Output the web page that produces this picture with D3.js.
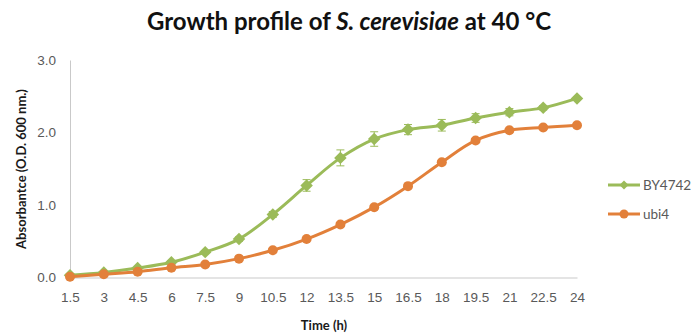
<!DOCTYPE html>
<html>
<head>
<meta charset="utf-8">
<script src="https://cdn.jsdelivr.net/npm/d3@7"></script>
<style>
  body { margin: 0; background: #fff; }
  svg { display: block; font-family: Lato, "Open Sans", sans-serif; }
</style>
</head>
<body>
<div id="chart"></div>
<script>
////////////////////////////////////////////////////////////////////////////////
// Data
var times = ['1.5', '3', '4.5', '6', '7.5', '9', '10.5', '12', '13.5', '15',
             '16.5', '18', '19.5', '21', '22.5', '24'];
var by4742 = [0.03, 0.07, 0.13, 0.21, 0.35, 0.53, 0.87, 1.27, 1.65, 1.91,
              2.04, 2.10, 2.20, 2.28, 2.34, 2.47];
var by4742_err = [0.01, 0.01, 0.01, 0.02, 0.02, 0.03, 0.04, 0.08, 0.11, 0.10,
                  0.07, 0.08, 0.06, 0.05, 0.03, 0.02];
var ubi4 = [0.01, 0.045, 0.08, 0.135, 0.18, 0.26, 0.375, 0.53, 0.73, 0.97,
            1.26, 1.59, 1.89, 2.03, 2.07, 2.10];
var ubi4_err = [0.01, 0.01, 0.01, 0.01, 0.01, 0.01, 0.01, 0.02, 0.02, 0.02,
                0.02, 0.02, 0.02, 0.02, 0.02, 0.02];
var y_ticks = [0, 1, 2, 3];

var W = 691, H = 334;
var green = '#9bbb59', orange = '#e2803a';
var axis_grey = '#c9c9c9', label_grey = '#595959';

var svg = d3.select('#chart').append('svg')
  .attr('width', W)
  .attr('height', H);

var xx = d3.scalePoint().domain(times).range([70, 577]);
var yy = d3.scaleLinear().domain([0, 3]).range([277.5, 60]);

////////////////////////////////////////////////////////////////////////////////
// Title
var title = svg.append('text')
  .attr('x', 349)
  .attr('y', 30)
  .attr('text-anchor', 'middle')
  .style('font-size', '24px')
  .style('font-weight', 'bold')
  .style('fill', '#111');
title.append('tspan').text('Growth profile of ');
title.append('tspan').style('font-style', 'italic').text('S. cerevisiae');
title.append('tspan').text(' at 40 °C');

////////////////////////////////////////////////////////////////////////////////
// Axes
var yAxis = svg.append('g')
  .attr('transform', 'translate(70,0)')
  .call(d3.axisLeft(yy).tickValues(y_ticks).tickFormat(d3.format('.1f'))
        .tickSize(0).tickPadding(14));
yAxis.select('.domain').attr('stroke', axis_grey);
yAxis.selectAll('text').style('font-size', '13.5px').style('fill', label_grey);

var xAxis = svg.append('g')
  .attr('transform', 'translate(0,' + yy(0) + ')')
  .call(d3.axisBottom(xx).tickSize(0).tickPadding(15));
xAxis.select('.domain').attr('stroke', axis_grey);
xAxis.selectAll('text').style('font-size', '13.5px').style('fill', label_grey);

// axis titles
svg.append('text')
  .attr('x', 324)
  .attr('y', 330)
  .attr('text-anchor', 'middle')
  .style('font-size', '13px')
  .style('font-weight', 'bold')
  .style('fill', '#1a1a1a')
  .text('Time (h)');

svg.append('text')
  .attr('transform', 'translate(26,169) rotate(-90)')
  .attr('text-anchor', 'middle')
  .style('font-size', '13px')
  .style('font-weight', 'bold')
  .style('fill', '#1a1a1a')
  .text('Absorbantce (O.D. 600 nm.)');

////////////////////////////////////////////////////////////////////////////////
// Series
var diamond = d3.symbol().type(d3.symbolSquare).size(78);

function draw_series(values, errs, color, marker) {
  var rows = times.map(function(t, i) { return {t: t, v: values[i], e: errs[i]}; });
  var g = svg.append('g');

  // error bars
  var eb = g.selectAll('.err').data(rows).enter().append('g')
    .attr('stroke', color).attr('stroke-width', 1);
  eb.append('line')
    .attr('x1', function(d) { return xx(d.t); })
    .attr('x2', function(d) { return xx(d.t); })
    .attr('y1', function(d) { return yy(d.v - d.e); })
    .attr('y2', function(d) { return yy(d.v + d.e); });
  eb.append('line')
    .attr('x1', function(d) { return xx(d.t) - 4; })
    .attr('x2', function(d) { return xx(d.t) + 4; })
    .attr('y1', function(d) { return yy(d.v + d.e); })
    .attr('y2', function(d) { return yy(d.v + d.e); });
  eb.append('line')
    .attr('x1', function(d) { return xx(d.t) - 4; })
    .attr('x2', function(d) { return xx(d.t) + 4; })
    .attr('y1', function(d) { return yy(d.v - d.e); })
    .attr('y2', function(d) { return yy(d.v - d.e); });

  g.append('path')
    .datum(rows)
    .attr('fill', 'none')
    .attr('stroke', color)
    .attr('stroke-width', 3)
    .attr('stroke-linejoin', 'round')
    .attr('d', d3.line()
      .curve(d3.curveCatmullRom.alpha(0.5))
      .x(function(d) { return xx(d.t); })
      .y(function(d) { return yy(d.v); }));

  if (marker == 'diamond') {
    g.selectAll('.pt').data(rows).enter().append('path')
      .attr('d', diamond)
      .attr('fill', color)
      .attr('transform', function(d) {
        return 'translate(' + xx(d.t) + ',' + yy(d.v) + ') rotate(45)';
      });
  } else {
    g.selectAll('.pt').data(rows).enter().append('circle')
      .attr('r', 5)
      .attr('fill', color)
      .attr('cx', function(d) { return xx(d.t); })
      .attr('cy', function(d) { return yy(d.v); });
  }
}

draw_series(by4742, by4742_err, green, 'diamond');
draw_series(ubi4, ubi4_err, orange, 'circle');

////////////////////////////////////////////////////////////////////////////////
// Legend
var legend = [
  {name: 'BY4742', color: green, marker: 'diamond', y: 185},
  {name: 'ubi4', color: orange, marker: 'circle', y: 214}
];
legend.forEach(function(l) {
  var lg = svg.append('g');
  lg.append('line')
    .attr('x1', 608).attr('x2', 640)
    .attr('y1', l.y).attr('y2', l.y)
    .attr('stroke', l.color).attr('stroke-width', 3);
  if (l.marker == 'diamond') {
    lg.append('path')
      .attr('d', d3.symbol().type(d3.symbolSquare).size(40))
      .attr('fill', l.color)
      .attr('transform', 'translate(624,' + l.y + ') rotate(45)');
  } else {
    lg.append('circle').attr('cx', 624).attr('cy', l.y).attr('r', 4.5).attr('fill', l.color);
  }
  lg.append('text')
    .attr('x', 643).attr('y', l.y)
    .attr('dy', '0.35em')
    .style('font-size', '13.5px')
    .style('fill', label_grey)
    .text(l.name);
});
</script>
</body>
</html>
